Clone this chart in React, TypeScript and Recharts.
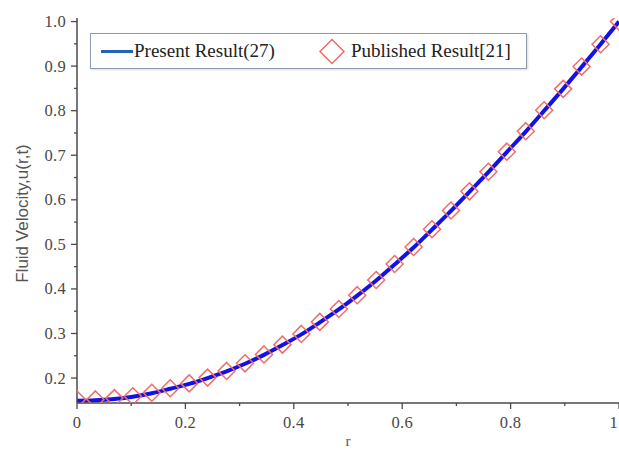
import React from "react";
import { ComposedChart, Line, XAxis, YAxis } from "recharts";

const rValues = [
  0, 0.034, 0.069, 0.103, 0.138, 0.172, 0.207, 0.241, 0.276, 0.31, 0.345, 0.379, 0.414, 0.448, 0.483,
  0.517, 0.552, 0.586, 0.621, 0.655, 0.69, 0.724, 0.759, 0.793, 0.828, 0.862, 0.897, 0.931, 0.966, 1.0,
];
const presentResult = [
  0.149, 0.15, 0.153, 0.158, 0.166, 0.176, 0.187, 0.2, 0.215, 0.232, 0.252, 0.274, 0.298, 0.325, 0.354,
  0.385, 0.419, 0.455, 0.493, 0.533, 0.575, 0.618, 0.662, 0.707, 0.753, 0.8, 0.849, 0.898, 0.949, 1.0,
];
const publishedResult = [
  0.152, 0.152, 0.155, 0.159, 0.167, 0.177, 0.188, 0.201, 0.216, 0.233, 0.253, 0.275, 0.299, 0.326, 0.355,
  0.386, 0.42, 0.456, 0.494, 0.534, 0.576, 0.619, 0.663, 0.708, 0.754, 0.801, 0.849, 0.899, 0.949, 1.0,
];
const xTicks = [0, 0.1, 0.2, 0.3, 0.4, 0.5, 0.6, 0.7, 0.8, 0.9, 1.0];
const xMajorLabels: Record<string, string> = { "0": "0", "0.2": "0.2", "0.4": "0.4", "0.6": "0.6", "0.8": "0.8", "1": "1" };
const yTicks = [0.2, 0.25, 0.3, 0.35, 0.4, 0.45, 0.5, 0.55, 0.6, 0.65, 0.7, 0.75, 0.8, 0.85, 0.9, 0.95, 1.0];
const yMajorLabels: Record<string, string> = {
  "0.2": "0.2", "0.3": "0.3", "0.4": "0.4", "0.5": "0.5", "0.6": "0.6", "0.7": "0.7", "0.8": "0.8", "0.9": "0.9", "1": "1.0",
};
const seriesNames = ["Present Result(27)", "Published Result[21]"];
const xLabel = "r";
const yLabel = "Fluid Velocity,u(r,t)";

const data = rValues.map((r, i) => ({ r, present: presentResult[i], published: publishedResult[i] }));

const AXIS = "#4a4a4a";
const SERIF = "'Liberation Serif', 'Times New Roman', serif";
const SANS = "'Liberation Sans', Arial, sans-serif";

const YTick = (props: any) => {
  const { x, y, payload } = props;
  const key = String(Number(payload.value.toFixed(2)));
  const label = yMajorLabels[key];
  const major = label !== undefined;
  return (
    <g>
      <line x1={x - (major ? 6 : 3)} x2={x} y1={y} y2={y} stroke={AXIS} strokeWidth={1.3} />
      {major && (
        <text x={x - 11} y={y} dy={5.5} textAnchor="end" fontFamily={SERIF} fontSize={16.5} fill="#484848" letterSpacing={0.3}>
          {label}
        </text>
      )}
    </g>
  );
};

const XTick = (props: any) => {
  const { x, y, payload } = props;
  const key = String(Number(payload.value.toFixed(2)));
  const label = xMajorLabels[key];
  const major = label !== undefined;
  const last = Math.abs(payload.value - 1) < 1e-9;
  return (
    <g>
      <line x1={x} x2={x} y1={y} y2={y + (major ? 6 : 3)} stroke={AXIS} strokeWidth={1.3} />
      {major && (
        <text
          x={last ? x - 1 : x}
          y={y}
          dy={25}
          textAnchor={last ? "end" : "middle"}
          fontFamily={SERIF}
          fontSize={16.5}
          fill="#484848"
          letterSpacing={0.3}
        >
          {label}
        </text>
      )}
    </g>
  );
};

const Diamond = (props: any) => {
  const { cx, cy } = props;
  if (cx == null || cy == null) return null;
  const s = 8.5;
  return (
    <path
      d={`M${cx},${cy - s}L${cx + s},${cy}L${cx},${cy + s}L${cx - s},${cy}Z`}
      fill="none"
      stroke="#f26b6b"
      strokeWidth={1.5}
    />
  );
};

export default function App() {
  return (
    <div style={{ position: "absolute", left: 0, top: 0, width: 619, height: 450, background: "#fff" }}>
      <ComposedChart width={619} height={450} data={data} margin={{ top: 18, right: 0, bottom: 0, left: 0 }}>
        <XAxis
          dataKey="r"
          type="number"
          domain={[0, 1]}
          ticks={xTicks}
          interval={0}
          allowDataOverflow
          height={47}
          tickSize={0}
          tickMargin={0}
          tickLine={false}
          tick={<XTick />}
          axisLine={{ stroke: AXIS, strokeWidth: 1.5 }}
          label={{ value: xLabel, position: "insideBottom", offset: 4, fontFamily: SERIF, fontSize: 15, fill: "#555" }}
        />
        <XAxis
          xAxisId="top"
          orientation="top"
          dataKey="r"
          type="number"
          domain={[0, 1]}
          height={0}
          tick={false}
          tickLine={false}
          axisLine={{ stroke: "#6a6a6a", strokeWidth: 1.5 }}
        />
        <YAxis
          type="number"
          domain={[0.144, 1.008]}
          ticks={yTicks}
          interval={0}
          allowDataOverflow
          width={77}
          tickSize={0}
          tickMargin={0}
          tickLine={false}
          tick={<YTick />}
          axisLine={{ stroke: AXIS, strokeWidth: 1.5 }}
          label={{ value: yLabel, angle: -90, position: "center", dx: -17, dy: 3, fontFamily: SANS, fontSize: 17, fill: "#555" }}
        />
        <Line
          dataKey="published"
          name={seriesNames[1]}
          stroke="none"
          dot={<Diamond />}
          activeDot={false}
          isAnimationActive={false}
        />
        <Line
          dataKey="present"
          name={seriesNames[0]}
          type="monotone"
          stroke="#1212e6"
          strokeWidth={4}
          dot={false}
          activeDot={false}
          isAnimationActive={false}
        />
      </ComposedChart>
      <div
        style={{
          position: "absolute",
          left: 90,
          top: 33,
          width: 437,
          height: 36,
          border: "1px solid #8f9bab",
          boxShadow: "1px 1px 2px rgba(0,0,0,0.15)",
          background: "#fff",
          boxSizing: "border-box",
          fontFamily: SERIF,
          fontSize: 19,
          color: "#222",
        }}
      >
        <svg width={437} height={36} style={{ position: "absolute", left: 0, top: 0 }}>
          <line x1={10} x2={42} y1={17.5} y2={17.5} stroke="#1f64b8" strokeWidth={3} />
          <path d="M241,5.5L253,17.5L241,29.5L229,17.5Z" fill="none" stroke="#f26b6b" strokeWidth={1.5} />
        </svg>
        <span style={{ position: "absolute", left: 43, top: 6, whiteSpace: "nowrap", lineHeight: "22px" }}>{seriesNames[0]}</span>
        <span style={{ position: "absolute", left: 260, top: 6, whiteSpace: "nowrap", lineHeight: "22px" }}>{seriesNames[1]}</span>
      </div>
    </div>
  );
}
